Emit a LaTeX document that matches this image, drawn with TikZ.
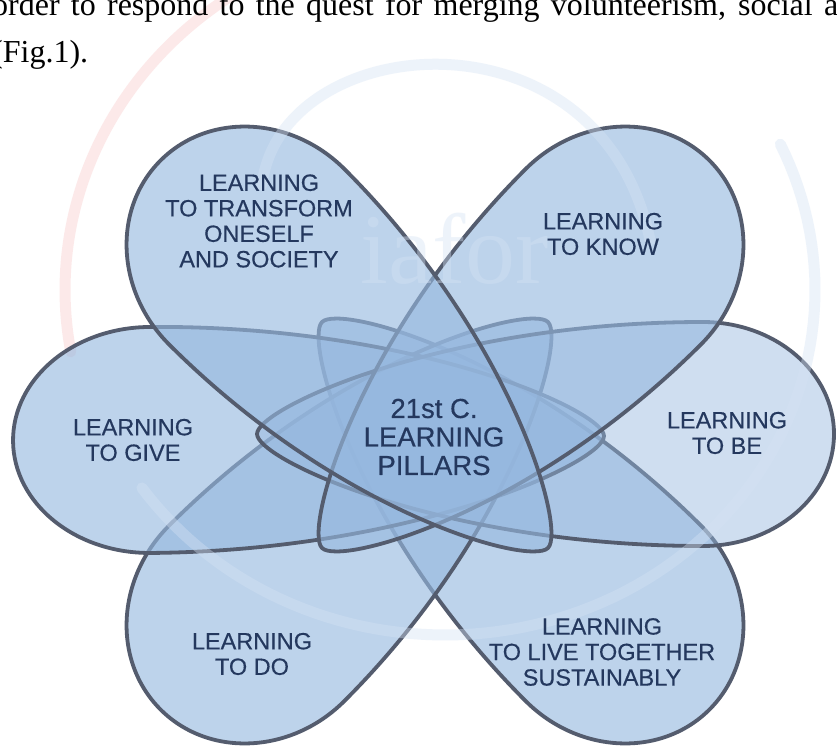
\documentclass[tikz,border=0pt]{standalone}
\usepackage{fontspec}
\setmainfont{Liberation Serif}
\setsansfont{Liberation Sans}
\newfontfamily\labfont[FakeBold=0.4]{Liberation Sans}
\begin{document}
\begin{tikzpicture}[x=1pt,y=-1pt]
\definecolor{edgecol}{RGB}{84,92,110}
\definecolor{pfill}{RGB}{150,184,223}
\definecolor{txtcol}{RGB}{36,56,94}
\definecolor{wmblue}{RGB}{212,226,244}
\definecolor{wmred}{RGB}{250,212,212}
\tikzset{
  petalbase/.style={fill=pfill, draw=edgecol, line width=3.8pt, line join=round},
  lab/.style={font=\labfont\fontsize{23.5}{25.5}\selectfont, text=txtcol, align=center, inner sep=0pt},
  biglab/.style={font=\labfont\fontsize{27.5}{28.5}\selectfont, text=txtcol, align=center, inner sep=0pt},
  wmline/.style={line width=11pt, line cap=round, draw opacity=0.5},
}
% #1 tipx #2 tipy #3 angle #4 L #5 W #6 um #7 opacity #8 control factor
\newcommand\petalshape[8]{%
  \path[petalbase, fill opacity=#7, shift={(#1,#2)}, rotate=#3]
    (0,0) .. controls (0,26) and ({#8*#6},#5) .. (#6,#5)
    .. controls ({#6+0.552*(#4-#6)},#5) and (#4,{0.552*#5}) .. (#4,0)
    .. controls (#4,{-0.552*#5}) and ({#6+0.552*(#4-#6)},-#5) .. (#6,-#5)
    .. controls ({#8*#6},-#5) and (0,-26) .. cycle;}
\useasboundingbox (0,0) rectangle (837,746);
\fill[white] (0,0) rectangle (837,746);

% watermark (behind)
\draw[wmline, wmred] plot[domain=170:236, samples=60] ({445+380*cos(\x)},{290+356*sin(\x)});

% petals
\petalshape{322}{322}{-45}{548}{124}{412}{0.62}{0.42}
\petalshape{548}{322}{225}{548}{124}{412}{0.62}{0.42}
\petalshape{604}{436}{180.5}{591}{113}{454}{0.62}{0.42}
\petalshape{257}{434}{0}{577}{112}{446}{0.45}{0.42}
\petalshape{322}{548}{45}{548}{124}{412}{0.62}{0.42}
\petalshape{548}{548}{135}{548}{124}{412}{0.62}{0.42}

% watermark (over petals, faint)
\draw[wmline, wmblue, draw opacity=0.4] plot[domain=-25:145, samples=90] ({445+370*cos(\x)},{290+345*sin(\x)});
\draw[wmline, wmblue, draw opacity=0.4] (262,185) .. controls (280,30) and (600,0) .. (650,240);
\node[anchor=base west, inner sep=0pt, text=wmblue, text opacity=0.4,
      font=\fontsize{100}{100}\selectfont] (wm) at (360,283) {iafor};

% labels
\node[lab] (transform) at (259,221) {LEARNING\\TO TRANSFORM\\ONESELF\\AND SOCIETY};
\node[lab] (know) at (603,234) {LEARNING\\TO KNOW};
\node[lab] (be) at (727,433) {LEARNING\\TO BE};
\node[lab] (give) at (133,440) {LEARNING\\TO GIVE};
\node[biglab] (pillars) at (434,437) {21st C.\\LEARNING\\PILLARS};
\node[lab] (do) at (252,654) {LEARNING\\TO DO};
\node[lab] (live) at (602,652) {LEARNING\\TO LIVE TOGETHER\\SUSTAINABLY};

% body text above the figure
\node[anchor=base west, inner sep=0pt, font=\fontsize{32}{32}\selectfont] (line1) at (-8,16)
  {\hbox to 846pt{order to respond to the quest for merging volunteerism, social a}};
\node[anchor=base west, inner sep=0pt, font=\fontsize{32}{32}\selectfont] (line2) at (-8,63) {(Fig.1).};
\end{tikzpicture}
\end{document}
